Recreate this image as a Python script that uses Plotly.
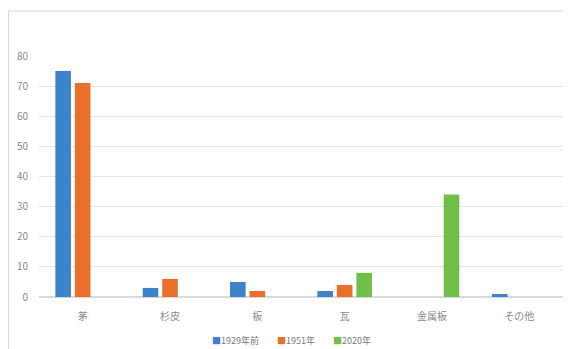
import plotly.graph_objects as go

categories = ["茅", "杉皮", "板", "瓦", "金属板", "その他"]
before_1929 = [75, 3, 5, 2, 0, 1]
year_1951 = [71, 6, 2, 4, 0, 0]
year_2020 = [0, 0, 0, 8, 34, 0]

series = [
    ("1929年前", before_1929, "#3d83c9"),
    ("1951年", year_1951, "#e96f2b"),
    ("2020年", year_2020, "#70bf48"),
]

fig = go.Figure()
for name, vals, color in series:
    fig.add_trace(go.Bar(x=categories, y=vals, name=name, showlegend=False,
                         marker=dict(color=color, line=dict(width=0))))

# legend drawn as one line of text, squares coloured like the bars
legend_text = "\u2003\u2003".join(
    f"<span style='color:{c}'>■</span>{n}" for n, _, c in series
)

fig.update_layout(
    width=563, height=341,
    margin=dict(l=31, r=8, t=48, b=52),
    paper_bgcolor="white", plot_bgcolor="white",
    font=dict(family="Noto Sans CJK JP", size=10, color="#8a8a8a"),
    barmode="group", bargap=0.33, bargroupgap=0.2,
    annotations=[dict(text=legend_text, xref="paper", yref="paper",
                      x=0.482, y=-0.18, xanchor="center", yanchor="middle",
                      showarrow=False, font=dict(size=9, color="#7a7a7a"))],
    shapes=[dict(type="rect", xref="paper", yref="paper",
                 x0=-0.0582, x1=1.05, y0=-0.3, y1=1.1867,
                 line=dict(color="#d8d8d8", width=1))],
)
fig.update_yaxes(range=[0, 80], dtick=10, showgrid=True, gridcolor="#e6e6e6",
                 zeroline=True, zerolinecolor="#d9d9d9", ticks="", showline=False,
                 ticklabelstandoff=10, automargin=False)
fig.update_xaxes(showgrid=False, ticks="", showline=False, ticklabelstandoff=12,
                 automargin=False)

fig.write_html("out.html")
